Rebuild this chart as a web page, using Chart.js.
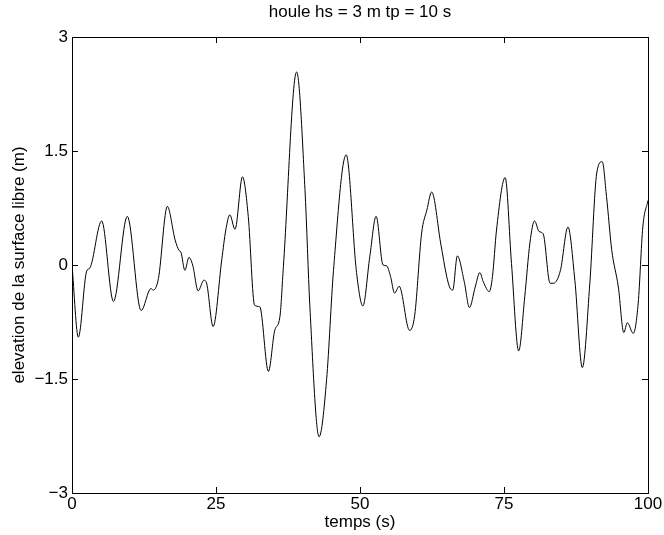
<!DOCTYPE html>
<html>
<head>
<meta charset="utf-8">
<script src="https://cdn.jsdelivr.net/npm/chart.js@4/dist/chart.umd.min.js"></script>
<style>
  html, body { margin: 0; padding: 0; background: #fff; }
  #chart { display: block; }
</style>
</head>
<body>
<canvas id="chart" width="664" height="535"></canvas>
<script>
// temps (s) et elevation (m)
const temps = [0, 1.1, 2.55, 3.1, 5.15, 7.2, 9.6, 12.0, 13.7, 14.1, 15.0, 16.55, 17.9, 18.6, 18.9,
  19.6, 20.3, 20.95, 21.9, 22.9, 23.4, 24.5, 26.0, 26.7, 27.4, 28.3, 29.6, 30.6, 31.7, 32.6,
  34.1, 35.2, 36.1, 36.7, 39.0, 40.45, 41.3, 42.9, 44.2, 45.4, 47.6, 49.4, 50.5, 51.7, 52.8,
  54.0, 54.6, 55.3, 56.0, 56.8, 58.6, 59.5, 60.7, 61.6, 62.45, 64.0, 65.05, 65.6, 66.1, 66.9,
  68.1, 69.0, 70.0, 70.8, 71.4, 72.45, 73.0, 73.7, 75.2, 76.3, 77.55, 78.6, 79.5, 80.3, 81.1,
  81.8, 83.0, 83.6, 84.8, 86.1, 87.3, 88.6, 89.9, 91.1, 92.05, 92.8, 93.7, 94.85, 95.8, 96.4,
  97.45, 98.3, 99.1, 100]
const elevation = [0, -0.95, -0.08, -0.04, 0.58, -0.48, 0.64, -0.6, -0.31, -0.33, -0.18, 0.77, 0.33, 0.19, 0.17,
  -0.07, 0.1, 0.0, -0.34, -0.2, -0.25, -0.81, 0.07, 0.46, 0.66, 0.47, 1.16, 0.64, -0.53, -0.55,
  -1.40, -0.86, -0.68, -0.02, 2.54, 0.99, -0.55, -2.26, -1.51, -0.07, 1.45, -0.1, -0.54, 0.11, 0.64,
  0.0, -0.01, -0.15, -0.37, -0.28, -0.86, -0.66, 0.42, 0.72, 0.96, 0.29, -0.15, -0.30, -0.33, 0.12,
  -0.22, -0.56, -0.29, -0.1, -0.22, -0.35, -0.15, 0.46, 1.15, 0.02, -1.13, -0.42, 0.29, 0.58, 0.44,
  0.41, -0.24, -0.24, -0.07, 0.5, -0.2, -1.35, -0.24, 1.21, 1.36, 0.9, 0.2, -0.29, -0.89, -0.76,
  -0.9, -0.5, 0.5, 0.85]

const xTicks = [0, 25, 50, 75, 100]
const yTicks = [-3, -1.5, 0, 1.5, 3]
const yTickLabels = ['\u22123', '\u22121.5', '0', '1.5', '3']

const titre = 'houle hs = 3 m tp = 10 s'
const labelX = 'temps (s)'
const labelY = 'elevation de la surface libre (m)'

const police = "'Liberation Sans', Arial, sans-serif"

const points = temps.map((t, i) => ({ x: t, y: elevation[i] }))

// petits traits vers l'interieur sur les 4 cotes, style matlab
const ticksInterieurs = {
  id: 'ticksInterieurs',
  afterDraw(chart) {
    const { ctx, chartArea: a, scales } = chart
    ctx.save()
    ctx.strokeStyle = '#000'
    ctx.lineWidth = 1
    ctx.beginPath()
    xTicks.forEach(v => {
      const px = Math.round(scales.x.getPixelForValue(v)) + 0.5
      ctx.moveTo(px, a.bottom); ctx.lineTo(px, a.bottom - 6)
      ctx.moveTo(px, a.top); ctx.lineTo(px, a.top + 6)
    })
    yTicks.forEach(v => {
      const py = Math.round(scales.y.getPixelForValue(v)) + 0.5
      ctx.moveTo(a.left, py); ctx.lineTo(a.left + 6, py)
      ctx.moveTo(a.right, py); ctx.lineTo(a.right - 6, py)
    })
    ctx.stroke()
    ctx.restore()
  }
}

new Chart(document.getElementById('chart'), {
  type: 'line',
  data: {
    datasets: [{
      data: points,
      borderColor: '#000',
      borderWidth: 1,
      pointRadius: 0,
      fill: false,
      cubicInterpolationMode: 'monotone'
    }]
  },
  options: {
    responsive: false,
    animation: false,
    layout: { padding: 0 },
    plugins: { legend: { display: false }, tooltip: { enabled: false } },
    scales: {
      x: {
        type: 'linear', position: 'bottom', min: 0, max: 100,
        afterFit: s => { s.height = 42 },
        afterBuildTicks: s => { s.ticks = xTicks.map(v => ({ value: v })) },
        grid: { display: false, drawTicks: false },
        border: { display: true, color: '#000', width: 1 },
        ticks: { color: '#000', padding: 1, maxRotation: 0, autoSkip: false, font: { family: police, size: 17 } },
        title: { display: true, text: labelX, color: '#000', padding: { top: 0, bottom: 2 }, font: { family: police, size: 17 } }
      },
      x2: {
        type: 'linear', position: 'top', min: 0, max: 100,
        afterFit: s => { s.height = 37 },
        grid: { display: false, drawTicks: false },
        border: { display: true, color: '#000', width: 1 },
        ticks: { display: false },
        title: { display: true, text: titre, color: '#000', padding: { top: 2, bottom: 0 }, font: { family: police, size: 17 } }
      },
      y: {
        type: 'linear', position: 'left', min: -3, max: 3,
        afterFit: s => { s.width = 72 },
        afterBuildTicks: s => { s.ticks = yTicks.map(v => ({ value: v })) },
        grid: { display: false, drawTicks: false },
        border: { display: true, color: '#000', width: 1 },
        ticks: {
          color: '#000', padding: 4, autoSkip: false, font: { family: police, size: 17 },
          callback: v => yTickLabels[yTicks.indexOf(v)]
        },
        title: { display: true, text: labelY, color: '#000', padding: { top: 9, bottom: 0 }, font: { family: police, size: 17 } }
      },
      y2: {
        type: 'linear', position: 'right', min: -3, max: 3,
        afterFit: s => { s.width = 16 },
        grid: { display: false, drawTicks: false },
        border: { display: true, color: '#000', width: 1 },
        ticks: { display: false }
      }
    }
  },
  plugins: [ticksInterieurs]
})
</script>
</body>
</html>
